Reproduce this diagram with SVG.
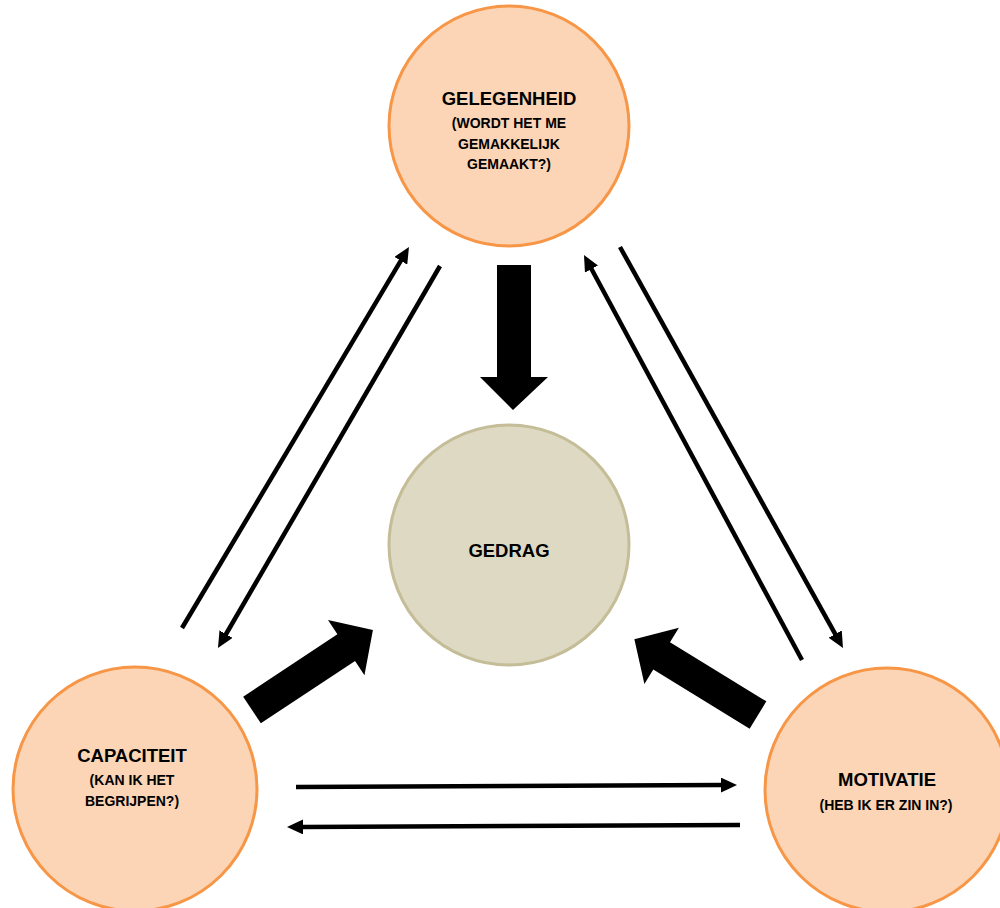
<svg xmlns="http://www.w3.org/2000/svg" width="1000" height="908" viewBox="0 0 1000 908">
  <defs>
    <style>
      .orange { fill: #FBD5B5; stroke: #F79646; stroke-width: 3; }
      .beige { fill: #DDD9C3; stroke: #C4BD97; stroke-width: 3; }
      .title { font-family: "Liberation Sans", Arial, sans-serif; font-weight: bold; font-size: 18.5px; fill: #000; text-anchor: middle; }
      .sub { font-family: "Liberation Sans", Arial, sans-serif; font-weight: bold; font-size: 14px; fill: #000; text-anchor: middle; }
      .thin { stroke: #000; stroke-width: 4.5; fill: none; marker-end: url(#ah); }
      .big { fill: #000; }
    </style>
    <marker id="ah" markerUnits="userSpaceOnUse" markerWidth="16" markerHeight="15" refX="1" refY="7.5" orient="auto" viewBox="0 0 16 15">
      <path d="M0,0 L16,7.5 L0,15 z" fill="#000"/>
    </marker>
  </defs>
  <rect width="1000" height="908" fill="#fff"/>

  <g id="connectors">
    <!-- big arrows to GEDRAG -->
    <polygon class="big" points="497,265 531,265 531,377 548,377 513,410 480,377 497,377"/>
    <polygon class="big" points="0,-16 113,-16 113,-33 145,0 113,33 113,16 0,16" transform="translate(252,710) rotate(-33.5)"/>
    <polygon class="big" points="0,-16 113,-16 113,-33 145,0 113,33 113,16 0,16" transform="translate(758,715) rotate(-148.5)"/>
    <!-- thin arrows -->
    <line class="thin" x1="182" y1="628" x2="401.3" y2="259.9"/>
    <line class="thin" x1="440" y1="266" x2="225.5" y2="635"/>
    <line class="thin" x1="802" y1="660" x2="591.1" y2="268.2"/>
    <line class="thin" x1="620" y1="247" x2="835.7" y2="634.9"/>
    <line class="thin" x1="296" y1="787" x2="722" y2="785.1"/>
    <line class="thin" x1="740" y1="825" x2="302" y2="826.9"/>
  </g>

  <g id="gelegenheid">
    <circle class="orange" cx="509" cy="126" r="120"/>
    <text class="title" x="509" y="105">GELEGENHEID</text>
    <text class="sub" x="509" y="128">(WORDT HET ME</text>
    <text class="sub" x="509" y="149">GEMAKKELIJK</text>
    <text class="sub" x="509" y="169">GEMAAKT?)</text>
  </g>

  <g id="gedrag">
    <circle class="beige" cx="509" cy="545" r="120"/>
    <text class="title" x="509" y="557">GEDRAG</text>
  </g>

  <g id="capaciteit">
    <circle class="orange" cx="135" cy="789" r="122"/>
    <text class="title" x="132" y="762">CAPACITEIT</text>
    <text class="sub" x="132" y="785">(KAN IK HET</text>
    <text class="sub" x="132" y="806">BEGRIJPEN?)</text>
  </g>

  <g id="motivatie">
    <circle class="orange" cx="887" cy="790" r="122"/>
    <text class="title" x="887" y="786">MOTIVATIE</text>
    <text class="sub" x="886" y="810">(HEB IK ER ZIN IN?)</text>
  </g>
</svg>
